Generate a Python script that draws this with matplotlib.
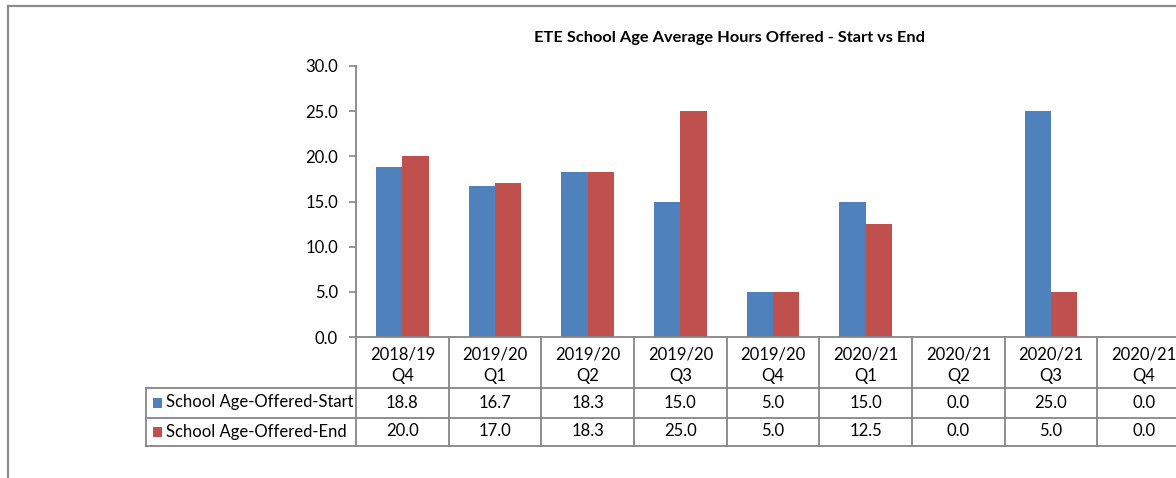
import matplotlib
matplotlib.use("Agg")
import matplotlib.pyplot as plt
from matplotlib.transforms import blended_transform_factory
from matplotlib.lines import Line2D
from matplotlib.patches import Rectangle

plt.rcParams['font.family'] = ['Lato', 'DejaVu Sans']

title = "ETE School Age Average Hours Offered - Start vs End"
categories = ["2018/19\nQ4", "2019/20\nQ1", "2019/20\nQ2", "2019/20\nQ3", "2019/20\nQ4",
              "2020/21\nQ1", "2020/21\nQ2", "2020/21\nQ3", "2020/21\nQ4"]
series_names = ["School Age-Offered-Start", "School Age-Offered-End"]
start_vals = [18.8, 16.7, 18.3, 15.0, 5.0, 15.0, 0.0, 25.0, 0.0]
end_vals = [20.0, 17.0, 18.3, 25.0, 5.0, 12.5, 0.0, 5.0, 0.0]
colors = ["#4F81BD", "#C0504D"]
yticks = [0, 5, 10, 15, 20, 25, 30]

W, H = 1176, 478
fig = plt.figure(figsize=(W / 100, H / 100), dpi=100)

def fx(px):
    return px / W

def fy(py):
    return 1 - py / H

ax_left, ax_right, ax_top, ax_bot = 356, 1190, 66, 337
ax = fig.add_axes([fx(ax_left), fy(ax_bot), (ax_right - ax_left) / W, (ax_bot - ax_top) / H])

n = len(categories)
xs = list(range(n))
bw = 0.283
ax.bar([x - bw / 2 for x in xs], start_vals, width=bw, color=colors[0], edgecolor='none')
ax.bar([x + bw / 2 for x in xs], end_vals, width=bw, color=colors[1], edgecolor='none')

ax.set_xlim(-0.5, n - 0.5)
ax.set_ylim(0, 30)
ax.set_yticks(yticks)
ax.set_yticklabels([f"{v:.1f}" for v in yticks], fontsize=12, color="#000000")
ax.tick_params(axis='y', direction='out', length=5, width=1.2, color="#868686", pad=8)
ax.set_xticks([])
for s in ['top', 'right']:
    ax.spines[s].set_visible(False)
ax.spines['left'].set_color("#868686")
ax.spines['left'].set_linewidth(1.3)
ax.spines['bottom'].set_color("#868686")
ax.spines['bottom'].set_linewidth(1.3)

# Data table below axis
line_kw = dict(color="#868686", lw=1.3, clip_on=False)
tr = blended_transform_factory(ax.transData, fig.transFigure)
row_lines = [388, 417.5, 446]
for py in row_lines:
    fig.add_artist(Line2D([fx(146), fx(W + 20)], [fy(py), fy(py)], transform=fig.transFigure, **line_kw))
for i in range(n + 1):
    xb = i - 0.5
    fig.add_artist(Line2D([xb, xb], [fy(337), fy(446)], transform=tr, **line_kw))
fig.add_artist(Line2D([fx(146), fx(146)], [fy(388), fy(446)], transform=fig.transFigure, **line_kw))

# header labels
for i, cat in enumerate(categories):
    ax.text(i, fy(365), cat, transform=tr, ha='center', va='center', fontsize=12,
            linespacing=1.4, clip_on=False)

# row values and labels
row_centers = [402.5, 431.5]
for r, (vals, name, col) in enumerate(zip([start_vals, end_vals], series_names, colors)):
    yc = row_centers[r]
    fig.add_artist(Rectangle((fx(153), fy(yc + 5)), 9 / W, 10 / H, transform=fig.transFigure,
                             facecolor=col, edgecolor='none'))
    fig.text(fx(166), fy(yc), name, ha='left', va='center', fontsize=12)
    for i, v in enumerate(vals):
        ax.text(i, fy(yc), f"{v:.1f}", transform=tr, ha='center', va='center', fontsize=12,
                clip_on=False)

# title
fig.text(fx(730), fy(38), title, ha='center', va='center', fontsize=11.8, fontweight='bold')

# chart border
fig.add_artist(Line2D([fx(8), fx(8)], [fy(6), fy(H + 5)], transform=fig.transFigure,
                      color="#8c8c8c", lw=1.6))
fig.add_artist(Line2D([fx(8), fx(W + 5)], [fy(6), fy(6)], transform=fig.transFigure,
                      color="#8c8c8c", lw=1.6))

fig.savefig("out.png", dpi=100)
